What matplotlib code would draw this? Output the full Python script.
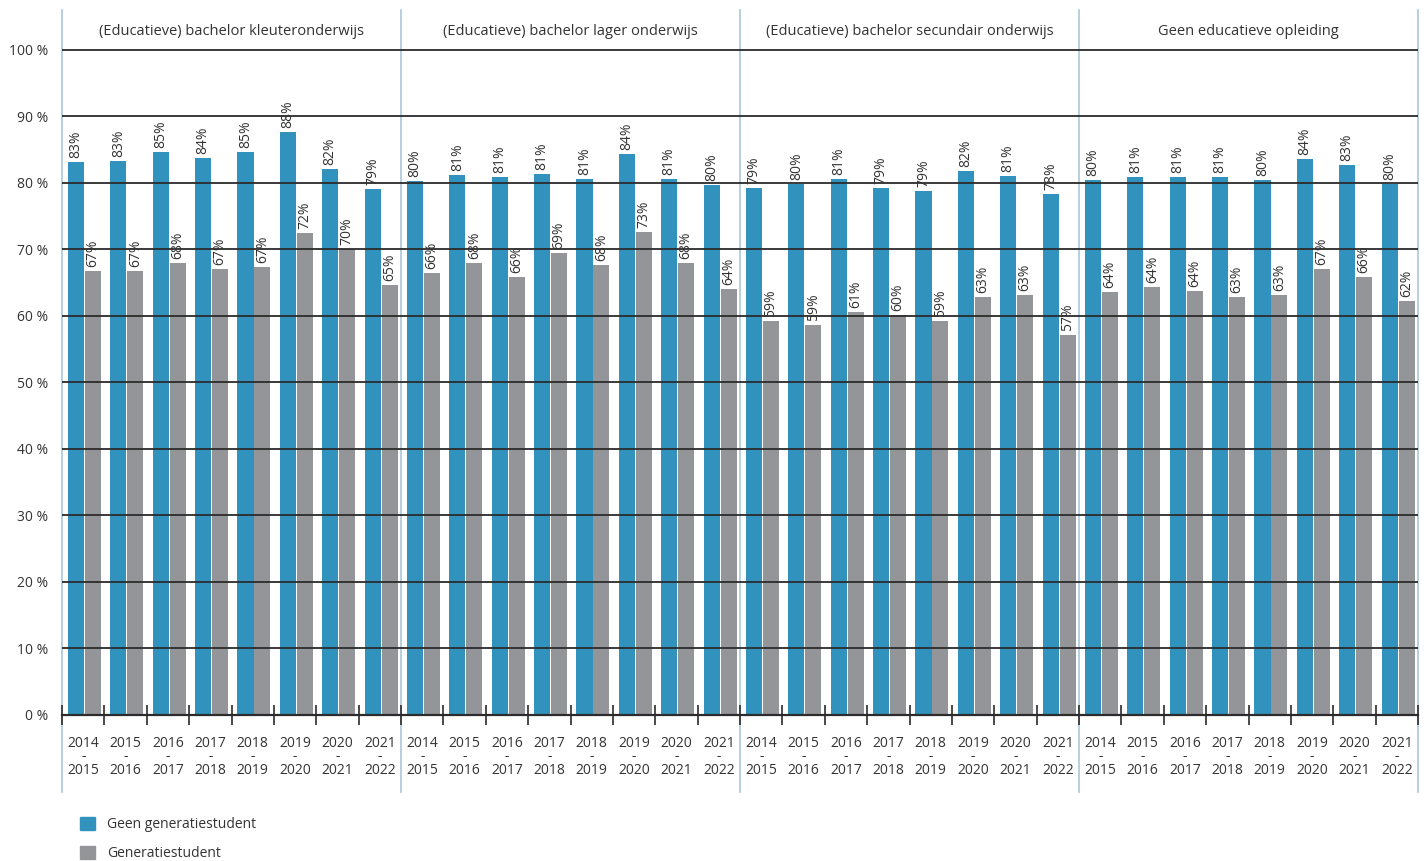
import numpy as np
import matplotlib
matplotlib.use('Agg')
import matplotlib.pyplot as plt
from matplotlib.patches import Patch

plt.rcParams['font.family'] = ['Open Sans', 'DejaVu Sans']

panels = ['(Educatieve) bachelor kleuteronderwijs',
          '(Educatieve) bachelor lager onderwijs',
          '(Educatieve) bachelor secundair onderwijs',
          'Geen educatieve opleiding']
years = ['2014\n-\n2015', '2015\n-\n2016', '2016\n-\n2017', '2017\n-\n2018',
         '2018\n-\n2019', '2019\n-\n2020', '2020\n-\n2021', '2021\n-\n2022']

geen_gen = [
    [83.2, 83.3, 84.6, 83.8, 84.6, 87.7, 82.1, 79.1],
    [80.3, 81.2, 80.9, 81.4, 80.6, 84.4, 80.6, 79.7],
    [79.3, 79.9, 80.6, 79.3, 78.8, 81.8, 81.1, 78.4],
    [80.4, 80.9, 80.9, 80.9, 80.4, 83.6, 82.7, 79.9],
]
gen = [
    [66.7, 66.7, 68.0, 67.0, 67.4, 72.4, 70.0, 64.6],
    [66.4, 68.0, 65.8, 69.4, 67.6, 72.6, 67.9, 64.0],
    [59.3, 58.7, 60.6, 60.1, 59.3, 62.9, 63.2, 57.2],
    [63.6, 64.4, 63.7, 62.9, 63.2, 67.1, 65.9, 62.2],
]
series_labels = ['Geen generatiestudent', 'Generatiestudent']

BLUE = '#3193bd'
GREY = '#939598'
SEP = '#a9c8dc'
TXT = '#333333'

fig = plt.figure(figsize=(14.27, 8.61), dpi=100)
ax = fig.add_axes([62 / 1427, 1 - 715 / 861, (1418 - 62) / 1427, 705 / 861])

n = len(years)
w = 0.38
for i in range(len(panels)):
    x0 = i * n + np.arange(n)
    bb = ax.bar(x0 + 0.33, geen_gen[i], width=w, color=BLUE, zorder=2)
    bg = ax.bar(x0 + 0.73, gen[i], width=w, color=GREY, zorder=2)
    for bars, vals in ((bb, geen_gen[i]), (bg, gen[i])):
        for b, v in zip(bars, vals):
            ax.text(b.get_x() + b.get_width() / 2, v + 0.6, f'{v:.0f}%',
                    rotation=90, ha='center', va='bottom', fontsize=10,
                    color=TXT, zorder=4)
    ax.text(i * n + n / 2, 103.1, panels[i], ha='center', va='center_baseline',
            fontsize=10.5, color=TXT)

ax.set_xlim(0, len(panels) * n)
ax.set_ylim(0, 106)

# gridlines on top of bars
for g in range(10, 101, 10):
    ax.axhline(g, color='#2b2b2b', lw=1.3, zorder=3)

# panel separators
trans = ax.get_xaxis_transform()
for i in range(len(panels) + 1):
    ax.plot([i * n, i * n], [-0.109, 1.0], transform=trans, color=SEP,
            lw=1.2, clip_on=False, zorder=1)

ax.set_yticks(range(0, 101, 10))
ax.set_yticklabels([f'{t} %' for t in range(0, 101, 10)], fontsize=10, color=TXT)
ax.tick_params(axis='y', length=0, pad=10)

ax.set_xticks(np.arange(len(panels) * n + 1))
ax.set_xticklabels([])
ax.set_xticks(np.arange(len(panels) * n) + 0.5, minor=True)
ax.set_xticklabels(years * len(panels), minor=True, fontsize=10, color=TXT,
                   linespacing=0.85)
ax.tick_params(axis='x', which='major', direction='inout', length=15,
               width=1.2, color='#2b2b2b')
ax.tick_params(axis='x', which='minor', length=0, pad=15)

for s in ['top', 'right', 'left']:
    ax.spines[s].set_visible(False)
ax.spines['bottom'].set_color('#2b2b2b')
ax.spines['bottom'].set_linewidth(1.6)
ax.spines['bottom'].set_zorder(5)

handles = [Patch(color=BLUE), Patch(color=GREY)]
fig.legend(handles, series_labels, loc='upper left',
           bbox_to_anchor=(67 / 1427, 1 - 804 / 861), frameon=False,
           fontsize=10, handlelength=1.1, handleheight=1.1,
           labelspacing=1.0, handletextpad=0.9, labelcolor=TXT)

fig.savefig('out.png', dpi=100, facecolor='white')
